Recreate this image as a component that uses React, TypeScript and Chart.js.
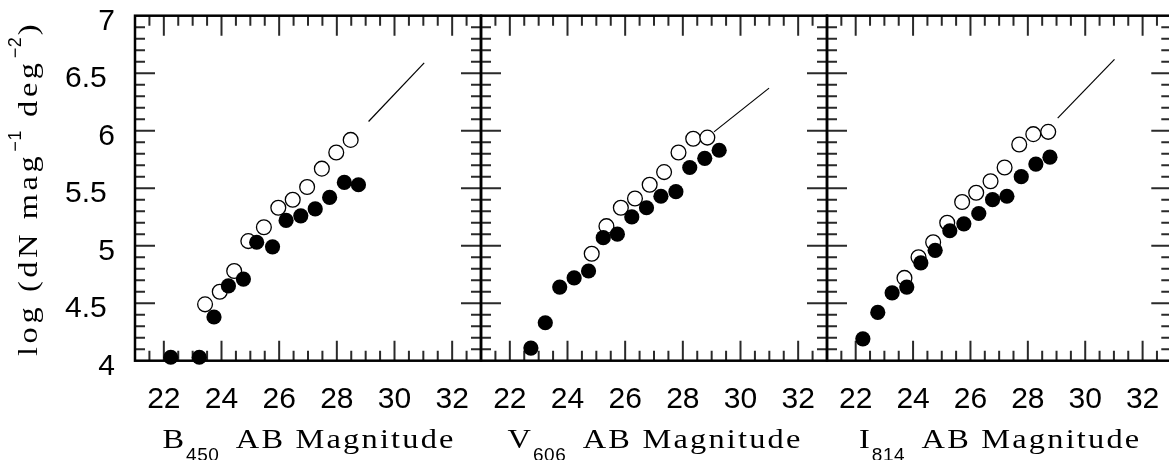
import React, { useEffect, useRef } from 'react';
import { Chart, registerables } from 'chart.js';

Chart.register(...registerables);

// ---------- data ----------
const xTickValues = [22, 24, 26, 28, 30, 32];
const yTickValues = [4, 4.5, 5, 5.5, 6, 6.5, 7];

// B450 panel
const bMagFilled = [22.24, 23.23, 23.74, 24.24, 24.76, 25.22, 25.77, 26.24, 26.75, 27.25, 27.75, 28.26, 28.75];
const bLogFilled = [4.03, 4.03, 4.38, 4.65, 4.71, 5.03, 4.99, 5.22, 5.26, 5.32, 5.42, 5.55, 5.53];
const bMagOpen = [23.43, 23.94, 24.44, 24.93, 25.47, 25.97, 26.47, 26.97, 27.48, 27.98, 28.48];
const bLogOpen = [4.49, 4.6, 4.78, 5.04, 5.16, 5.33, 5.4, 5.51, 5.67, 5.81, 5.92];
const bModelMag = [29.1, 31.03];
const bModelLog = [6.08, 6.59];

// V606 panel
const vMagFilled = [22.73, 23.23, 23.73, 24.23, 24.73, 25.24, 25.73, 26.23, 26.74, 27.24, 27.76, 28.24, 28.76, 29.26];
const vLogFilled = [4.11, 4.33, 4.64, 4.72, 4.78, 5.07, 5.1, 5.25, 5.33, 5.43, 5.47, 5.68, 5.76, 5.83];
const vMagOpen = [24.84, 25.35, 25.85, 26.34, 26.85, 27.35, 27.85, 28.36, 28.85];
const vLogOpen = [4.93, 5.17, 5.33, 5.41, 5.53, 5.64, 5.81, 5.93, 5.94];
const vModelMag = [29.08, 30.99];
const vModelLog = [5.99, 6.37];

// I814 panel
const iMagFilled = [22.25, 22.77, 23.27, 23.78, 24.27, 24.77, 25.28, 25.77, 26.29, 26.77, 27.27, 27.77, 28.28, 28.77];
const iLogFilled = [4.19, 4.42, 4.59, 4.64, 4.85, 4.96, 5.13, 5.19, 5.28, 5.4, 5.43, 5.6, 5.71, 5.77];
const iMagOpen = [23.7, 24.19, 24.7, 25.19, 25.71, 26.2, 26.7, 27.19, 27.7, 28.19, 28.71];
const iLogOpen = [4.72, 4.9, 5.03, 5.2, 5.38, 5.46, 5.56, 5.68, 5.88, 5.97, 5.99];
const iModelMag = [29.04, 31.02];
const iModelLog = [6.11, 6.62];

const bandLetters = ['B', 'V', 'I'];
const bandSubs = ['450', '606', '814'];
const xTitleRest = 'AB Magnitude';
const yTitleParts = ['log (dN mag', '\u22121', ' deg', '\u22122', ')'];

// ---------- layout ----------
const CANVAS_W = 1180;
const CANVAS_H = 460;
const panelEdges = [135, 481, 827, 1173];
const AREA_TOP = 15.7;
const AREA_BOTTOM = 360.7;

const SERIF = "'Liberation Serif', 'Times New Roman', serif";
const SANS = "'Liberation Sans', Arial, sans-serif";
const STRETCH = 1.2;

const zip = (xs: number[], ys: number[]) => xs.map((x, i) => ({ x, y: ys[i] }));

const panelData = [
  { filled: zip(bMagFilled, bLogFilled), open: zip(bMagOpen, bLogOpen), model: zip(bModelMag, bModelLog) },
  { filled: zip(vMagFilled, vLogFilled), open: zip(vMagOpen, vLogOpen), model: zip(vModelMag, vModelLog) },
  { filled: zip(iMagFilled, iLogFilled), open: zip(iMagOpen, iLogOpen), model: zip(iModelMag, iModelLog) },
];

function drawSpaced(ctx: CanvasRenderingContext2D, text: string, x: number, y: number, spacing: number, sx = 1) {
  let cx = x;
  for (const ch of text) {
    ctx.save();
    ctx.translate(cx, y);
    ctx.scale(sx, 1);
    ctx.fillText(ch, 0, 0);
    ctx.restore();
    cx += ctx.measureText(ch).width * sx + spacing;
  }
  return cx - spacing;
}

function widthSpaced(ctx: CanvasRenderingContext2D, text: string, spacing: number, sx = 1) {
  let w = 0;
  const chars = Array.from(text);
  for (const ch of chars) w += ctx.measureText(ch).width * sx;
  return w + spacing * Math.max(0, chars.length - 1);
}

function makePlugin(index: number) {
  return {
    id: 'frameTicks' + index,
    beforeDatasetsDraw(chart: any) {
      const { ctx, chartArea: a, scales } = chart;
      const x = scales.x;
      const y = scales.y;
      ctx.save();
      ctx.strokeStyle = '#2a2a2a';
      ctx.lineWidth = 2;
      ctx.beginPath();
      for (let k = 43; k <= 65; k++) {
        const v = k / 2;
        const px = x.getPixelForValue(v);
        const len = k % 4 === 0 ? 20 : 10;
        ctx.moveTo(px, a.bottom);
        ctx.lineTo(px, a.bottom - len);
        ctx.moveTo(px, a.top);
        ctx.lineTo(px, a.top + len);
      }
      for (let k = 41; k <= 69; k++) {
        const v = k / 10;
        const py = y.getPixelForValue(v);
        const len = k % 5 === 0 ? 20 : 10;
        ctx.moveTo(a.left, py);
        ctx.lineTo(a.left + len, py);
        ctx.moveTo(a.right, py);
        ctx.lineTo(a.right - len, py);
      }
      ctx.stroke();
      ctx.strokeStyle = '#000';
      ctx.lineWidth = 2.5;
      ctx.strokeRect(a.left, a.top, a.right - a.left, a.bottom - a.top);
      ctx.restore();
    },
    afterDraw(chart: any) {
      const { ctx, chartArea: a } = chart;
      ctx.save();
      ctx.fillStyle = '#000';
      ctx.textBaseline = 'alphabetic';
      ctx.textAlign = 'left';
      // x title
      const mainFont = '27px ' + SERIF;
      const subFont = '19px ' + SANS;
      const sp = 2.2;
      ctx.font = mainFont;
      const wMain = ctx.measureText(bandLetters[index]).width * STRETCH;
      const wRest = widthSpaced(ctx, xTitleRest, sp, STRETCH);
      ctx.font = subFont;
      const wSub = widthSpaced(ctx, bandSubs[index], 0.5);
      const gap1 = 2;
      const gap2 = 17;
      const total = wMain + gap1 + wSub + gap2 + wRest;
      let cx = (a.left + a.right) / 2 - total / 2;
      const base = 448;
      ctx.font = mainFont;
      drawSpaced(ctx, bandLetters[index], cx, base, 0, STRETCH);
      cx += wMain + gap1;
      ctx.font = subFont;
      drawSpaced(ctx, bandSubs[index], cx, base + 13, 0.5);
      cx += wSub + gap2;
      ctx.font = mainFont;
      drawSpaced(ctx, xTitleRest, cx, base, sp, STRETCH);

      // y title (first panel only)
      if (index === 0) {
        ctx.translate(37, 356);
        ctx.rotate(-Math.PI / 2);
        let tx = 0;
        yTitleParts.forEach((part, k) => {
          const sup = k === 1 || k === 3;
          if (sup) {
            ctx.font = '18px ' + SANS;
            const end = drawSpaced(ctx, part, tx + 1, -16, 0.5);
            tx = end + 2;
          } else {
            ctx.font = '27px ' + SERIF;
            const s = 3.6;
            const end = drawSpaced(ctx, part, tx, 0, s, STRETCH);
            tx = end + (k < 4 ? s : 0);
          }
        });
      }
      ctx.restore();
    },
  };
}

function makeConfig(index: number): any {
  const d = panelData[index];
  const left = panelEdges[index];
  const right = panelEdges[index + 1];
  const showY = index === 0;
  return {
    type: 'scatter',
    data: {
      datasets: [
        {
          data: d.filled,
          pointRadius: 7.6,
          pointBackgroundColor: '#000',
          pointBorderColor: '#000',
          pointBorderWidth: 0,
          showLine: false,
          clip: false,
        },
        {
          data: d.open,
          pointRadius: 7.4,
          pointBackgroundColor: '#fff',
          pointBorderColor: '#000',
          pointBorderWidth: 1.3,
          showLine: false,
          clip: false,
        },
        {
          data: d.model,
          showLine: true,
          borderColor: '#000',
          borderWidth: 1.2,
          pointRadius: 0,
          clip: false,
        },
      ],
    },
    options: {
      responsive: false,
      animation: false,
      events: [],
      layout: {
        padding: {
          left: 0,
          right: CANVAS_W - right,
          top: AREA_TOP,
          bottom: 0,
        },
      },
      plugins: {
        legend: { display: false },
        tooltip: { enabled: false },
        title: { display: false },
      },
      scales: {
        x: {
          type: 'linear',
          min: 21,
          max: 33,
          grid: { display: false, drawTicks: false },
          border: { display: false },
          ticks: {
            color: '#000',
            font: { family: SANS, size: 30 },
            padding: 21,
            maxRotation: 0,
            autoSkip: false,
            callback: (v: number) => String(v),
          },
          afterBuildTicks: (s: any) => {
            s.ticks = xTickValues.map((v) => ({ value: v }));
          },
          afterFit: (s: any) => {
            s.height = CANVAS_H - AREA_BOTTOM;
            s.paddingLeft = 0;
            s.paddingRight = 0;
            s.paddingTop = 0;
            s.paddingBottom = 0;
          },
        },
        y: {
          type: 'linear',
          position: 'left',
          min: 4,
          max: 7,
          grid: { display: false, drawTicks: false },
          border: { display: false },
          ticks: {
            display: showY,
            color: '#000',
            font: { family: SANS, size: 30 },
            padding: 20,
            labelOffset: 6,
            autoSkip: false,
            callback: (v: number) => (Number.isInteger(v) ? String(v) : v.toFixed(1) + ' '),
          },
          afterBuildTicks: (s: any) => {
            s.ticks = yTickValues.map((v) => ({ value: v }));
          },
          afterFit: (s: any) => {
            s.width = left;
            s.paddingLeft = 0;
            s.paddingRight = 0;
            s.paddingTop = 0;
            s.paddingBottom = 0;
          },
        },
      },
    },
    plugins: [makePlugin(index)],
  };
}

export default function App() {
  const r0 = useRef<HTMLCanvasElement>(null);
  const r1 = useRef<HTMLCanvasElement>(null);
  const r2 = useRef<HTMLCanvasElement>(null);
  const refs = [r0, r1, r2];

  useEffect(() => {
    const charts = refs.map((r, i) => new Chart(r.current as HTMLCanvasElement, makeConfig(i)));
    return () => charts.forEach((c) => c.destroy());
  }, []);

  return (
    <div
      style={{
        position: 'fixed',
        left: 0,
        top: 0,
        width: 1169,
        height: 460,
        overflow: 'hidden',
        background: '#fff',
      }}
    >
      {refs.map((r, i) => (
        <canvas
          key={i}
          ref={r}
          width={CANVAS_W}
          height={CANVAS_H}
          style={{ position: 'absolute', left: 0, top: 0, width: CANVAS_W, height: CANVAS_H }}
        />
      ))}
    </div>
  );
}
